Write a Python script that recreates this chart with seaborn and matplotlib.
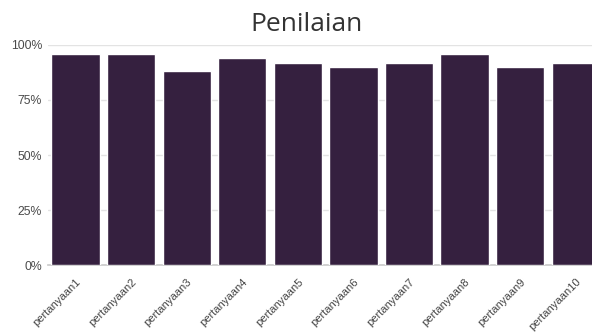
import matplotlib
matplotlib.use("Agg")
import matplotlib.pyplot as plt
import seaborn as sns
import pandas as pd
from matplotlib.ticker import FuncFormatter

categories = [f"pertanyaan{i}" for i in range(1, 11)]
values = [96, 96, 88, 94, 92, 90, 92, 96, 90, 92]
yticks = [0, 25, 50, 75, 100]

sns.set_theme(style="white")
plt.rcParams['font.family'] = ['Liberation Sans', 'DejaVu Sans']

df = pd.DataFrame({"q": categories, "v": values})
fig = plt.figure(figsize=(5.92, 3.33), dpi=100)
ax = fig.add_axes([0.0806, 0.204, 0.939, 0.661])
sns.barplot(data=df, x="q", y="v", color="#35203f", saturation=1, width=0.87, ax=ax, zorder=3)
ax.set_xlim(-0.5, 9.5)
ax.set_ylim(0, 100)
ax.set_yticks(yticks)
ax.yaxis.set_major_formatter(FuncFormatter(lambda v, p: f"{int(v)}%"))
ax.grid(axis="y", color="#e3e3e3", linewidth=1, zorder=0)
for s in ["top", "right", "left"]:
    ax.spines[s].set_visible(False)
ax.spines["bottom"].set_color("#cccccc")
ax.set_xlabel("")
ax.set_ylabel("")
ax.tick_params(axis="y", labelsize=8.8, colors="#4a4a4a", length=0, pad=4)
ax.tick_params(axis="x", labelsize=8, colors="#444444", length=0, pad=8.5)
plt.setp(ax.get_xticklabels(), rotation=45, ha="right", va="top", rotation_mode="anchor")
fig.text(0.517, 0.925, "Penilaian", ha="center", va="center", fontsize=19,
         color="#333333", family=["Open Sans", "DejaVu Sans"])
fig.savefig("out.png", dpi=100)
